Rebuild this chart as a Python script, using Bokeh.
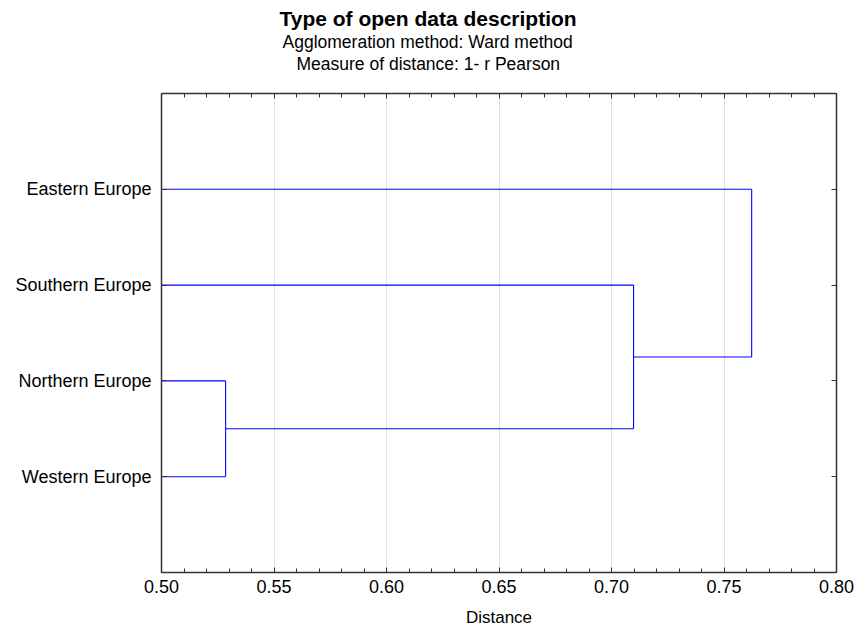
from bokeh.plotting import figure
from bokeh.models import (LinearAxis, SingleIntervalTicker, FixedTicker, Title,
                          ColumnDataSource, NumeralTickFormatter, CustomLabelingPolicy)
from bokeh.embed import file_html
from bokeh.resources import INLINE

# ---- data ----
leaf_labels = ["Western Europe", "Northern Europe", "Southern Europe", "Eastern Europe"]
leaf_positions = [1, 2, 3, 4]
# linkage: (left member, right member, distance); members are leaf indices or "n<k>" nodes
merge_left = [1, 2, 3]          # Northern, Southern, Eastern
merge_right = [0, "n0", "n1"]   # Western, node0, node1
merge_dist = [0.5285, 0.7098, 0.7623]
leaf_dist = 0.0

title_text = "Type of open data description"
sub1 = "Agglomeration method: Ward method"
sub2 = "Measure of distance: 1- r Pearson"
x_label = "Distance"

FONT = "Liberation Sans"

# ---- build dendrogram segments from the linkage ----
node_pos = {}
node_h = {}
for i, y in enumerate(leaf_positions):
    node_pos[i] = y
    node_h[i] = leaf_dist
x0s, y0s, x1s, y1s = [], [], [], []
for k, (a, b, d) in enumerate(zip(merge_left, merge_right, merge_dist)):
    ya, yb = node_pos[a], node_pos[b]
    ha, hb = node_h[a], node_h[b]
    x0s += [ha, hb, d]
    y0s += [ya, yb, ya]
    x1s += [d, d, d]
    y1s += [ya, yb, yb]
    node_pos["n%d" % k] = (ya + yb) / 2
    node_h["n%d" % k] = d

src = ColumnDataSource(dict(x0=x0s, y0=y0s, x1=x1s, y1=y1s))

p = figure(width=856, height=629, x_range=(0.5, 0.8), y_range=(0, 5),
           output_backend="svg", toolbar_location=None,
           min_border_left=161, min_border_right=20, min_border_top=93,
           min_border_bottom=57, x_axis_location=None, y_axis_location=None)

p.segment("x0", "y0", "x1", "y1", source=src, line_color="#0000FF", line_width=1.1)

xt = SingleIntervalTicker(interval=0.05, num_minor_ticks=5)
yt = FixedTicker(ticks=leaf_positions)

def style_common(ax):
    ax.axis_line_color = "#333333"
    ax.axis_line_width = 1.5
    ax.major_tick_line_color = "#333333"
    ax.minor_tick_line_color = "#333333"
    ax.major_tick_in = 5
    ax.major_tick_out = 0
    ax.minor_tick_in = 4
    ax.minor_tick_out = 0
    ax.major_label_text_font = FONT
    ax.major_label_text_color = "#000000"
    ax.major_label_text_font_size = "18px"

no_labels = CustomLabelingPolicy(code="if (false) { yield 0 }")

xb = LinearAxis(ticker=xt, formatter=NumeralTickFormatter(format="0.00"))
style_common(xb)
xb.axis_label = x_label
xb.axis_label_text_font = FONT
xb.axis_label_text_font_style = "normal"
xb.axis_label_text_color = "#000000"
xb.axis_label_text_font_size = "17px"
xb.axis_label_standoff = 12
xb.major_label_standoff = 7
p.add_layout(xb, "below")

xtop = LinearAxis(ticker=xt)
style_common(xtop)
xtop.major_label_policy = no_labels
xtop.major_label_standoff = 4
p.add_layout(xtop, "above")

yl = LinearAxis(ticker=yt)
style_common(yl)
yl.minor_tick_in = 0
yl.major_label_overrides = {v: s for v, s in zip(leaf_positions, leaf_labels)}
yl.major_label_standoff = 10
p.add_layout(yl, "left")

yr = LinearAxis(ticker=yt)
style_common(yr)
yr.minor_tick_in = 0
yr.major_label_policy = no_labels
yr.major_label_standoff = 0
p.add_layout(yr, "right")

p.xgrid.ticker = xt
p.xgrid.grid_line_color = "#e3e3e3"
p.ygrid.grid_line_color = None
p.outline_line_color = "#333333"

# titles are centred on the whole canvas (left-aligned with an offset from the frame)
for txt, size, style, off in [(sub2, "17.5px", "normal", 135),
                              (sub1, "17.5px", "normal", 121),
                              (title_text, "21px", "bold", 118)]:
    t = Title(text=txt, align="left", offset=off, text_font=FONT, text_font_size=size,
              text_font_style=style, text_color="#000000", standoff=0)
    p.add_layout(t, "above")

open("out.html", "w").write(file_html(p, INLINE))
